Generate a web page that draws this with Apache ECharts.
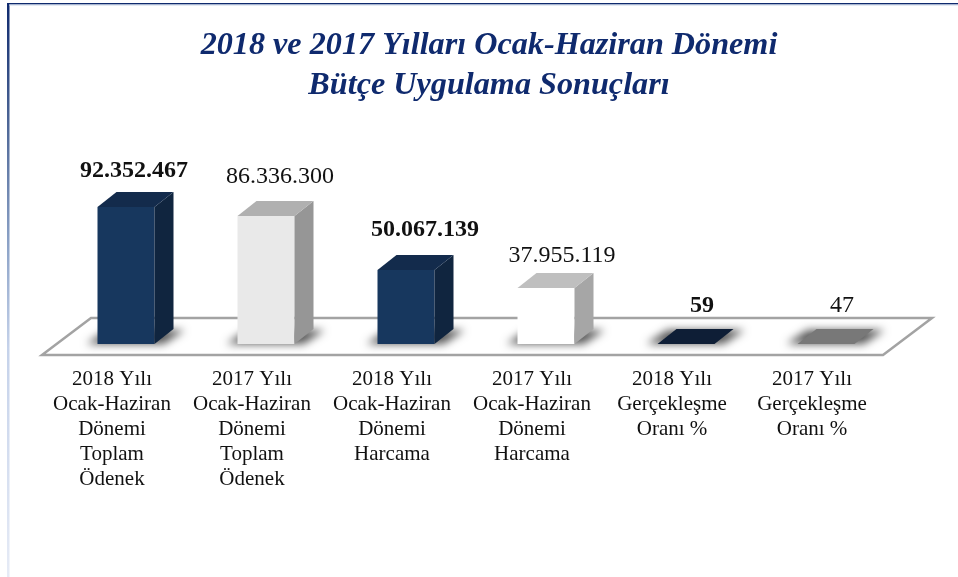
<!DOCTYPE html>
<html>
<head>
<meta charset="utf-8">
<style>
  html, body { margin: 0; padding: 0; background: #fff; }
  #chart { width: 958px; height: 577px; }
</style>
<script src="https://cdn.jsdelivr.net/npm/echarts@6/dist/echarts.min.js"></script>
</head>
<body>
<div id="chart"></div>
<script>
const titleLines = ['2018 ve 2017 Yılları Ocak-Haziran Dönemi', 'Bütçe Uygulama Sonuçları']
const categories = [
  '2018 Yılı\nOcak-Haziran\nDönemi\nToplam\nÖdenek',
  '2017 Yılı\nOcak-Haziran\nDönemi\nToplam\nÖdenek',
  '2018 Yılı\nOcak-Haziran\nDönemi\nHarcama',
  '2017 Yılı\nOcak-Haziran\nDönemi\nHarcama',
  '2018 Yılı\nGerçekleşme\nOranı %',
  '2017 Yılı\nGerçekleşme\nOranı %'
]
const values = [92352467, 86336300, 50067139, 37955119, 59, 47]

// renk: on yuz, ust, yan
const barColors = [
  ['#17375e', '#132b4c', '#10253f'],
  ['#e9e9e9', '#b0b0b0', '#969696'],
  ['#17375e', '#132b4c', '#10253f'],
  ['#ffffff', '#bfbfbf', '#a6a6a6'],
  ['#17375e', '#0e1e36', '#10253f'],
  ['#e9e9e9', '#787878', '#969696']
]
// etiketler elle yerlestirilmis gibi, cubuk basina kucuk kaydirma
const labelNudge = [[0, 3], [6, 0], [11, -1], [8, 7], [8, 1], [8, 1]]

const barW = 57
const depthX = 19
const depthY = 15
const barShift = 14
const shadowAway = 2000 // sekil ekran disinda, sadece golgesi gorunsun

const formatNum = v => String(v).replace(/\B(?=(\d{3})+(?!\d))/g, '.')

const poly = (points, fill, extra) => ({
  type: 'polygon',
  shape: { points: points },
  style: Object.assign({ fill: fill }, extra || {})
})

function renderBar (params, api) {
  const i = api.value(0)
  const v = api.value(1)
  const base = api.coord([i, 0])
  const top = api.coord([i, v])
  const x0 = base[0] + barShift - barW / 2
  const x1 = x0 + barW
  const y0 = base[1]
  const y1 = Math.round(top[1])
  const c = barColors[i]
  const children = []
  // zemindeki golge
  children.push(poly(
    [[x0 - 11, y0], [x1 + 9, y0], [x1 + depthX + 11, y0 - depthY + 1], [x0 + depthX - 9, y0 - depthY + 1]]
      .map(p => [p[0] - shadowAway, p[1]]),
    '#555',
    { shadowBlur: 9, shadowColor: 'rgba(85,85,85,1)', shadowOffsetX: shadowAway }
  ))
  if (y0 - y1 > 1) {
    children.push({
      type: 'rect',
      shape: { x: x0, y: y1, width: barW, height: y0 - y1 },
      style: { fill: c[0] }
    })
    children.push(poly([[x1, y1], [x1 + depthX, y1 - depthY], [x1 + depthX, y0 - depthY], [x1, y0]], c[2]))
  }
  children.push(poly([[x0, y1], [x1, y1], [x1 + depthX, y1 - depthY], [x0 + depthX, y1 - depthY]], c[1]))
  const n = labelNudge[i]
  children.push({
    type: 'text',
    x: x0 + barW / 2 + 8 + n[0],
    y: y1 - depthY - 24 + n[1],
    style: {
      text: formatNum(v),
      fill: '#111',
      font: (i % 2 === 0 ? 'bold ' : '') + '24px "Liberation Serif"',
      align: 'center',
      verticalAlign: 'middle'
    }
  })
  return { type: 'group', children: children }
}

// zemin: eksenin 0 cizgisine gore
function renderFloor (params, api) {
  const l = api.coord([0, 0])[0] - 70
  const r = api.coord([categories.length - 1, 0])[0] + 70
  const y = api.coord([0, 0])[1]
  return {
    type: 'polygon',
    shape: { points: [[l, y + 11], [r + 1, y + 11], [r + 50, y - 26], [l + 49, y - 26]] },
    style: { fill: '#fff', stroke: '#a3a3a3', lineWidth: 2.5 }
  }
}

const chart = echarts.init(document.getElementById('chart'), null, { renderer: 'canvas' })
chart.setOption({
  backgroundColor: '#ffffff',
  animation: false,
  title: {
    text: titleLines.join('\n'),
    left: 484,
    top: 21,
    textAlign: 'center',
    textStyle: {
      fontFamily: 'Liberation Serif',
      fontSize: 32.2,
      fontWeight: 'bold',
      fontStyle: 'italic',
      color: '#0f2a6e',
      lineHeight: 40
    }
  },
  grid: { left: 42, top: 196, width: 840, height: 148 },
  xAxis: {
    type: 'category',
    data: categories,
    axisLine: { show: false },
    axisTick: { show: false },
    axisLabel: {
      interval: 0,
      margin: 23,
      fontFamily: 'Liberation Serif',
      fontSize: 21,
      lineHeight: 25,
      color: '#111',
      verticalAlign: 'top'
    }
  },
  yAxis: { type: 'value', min: 0, max: 100000000, show: false },
  series: [
    {
      type: 'custom',
      renderItem: renderFloor,
      data: [[0, 0]],
      silent: true,
      z: 1,
      clip: false
    },
    {
      type: 'custom',
      renderItem: renderBar,
      encode: { x: 0, y: 1 },
      data: values.map((v, i) => [i, v]),
      z: 2,
      clip: false
    }
  ],
  graphic: [
    {
      type: 'rect',
      shape: { x: 7, y: 3, width: 2.5, height: 574 },
      style: {
        fill: new echarts.graphic.LinearGradient(0, 0, 0, 1, [
          { offset: 0, color: '#0f2a6e' },
          { offset: 0.2, color: '#4a6394' },
          { offset: 0.43, color: '#8fa5c9' },
          { offset: 0.6, color: '#c5d2ea' },
          { offset: 1, color: '#e6ebf6' }
        ])
      }
    },
    {
      type: 'rect',
      shape: { x: 7, y: 3, width: 951, height: 1.5 },
      style: { fill: '#0f2a6e' }
    },
    {
      type: 'rect',
      shape: { x: 9, y: 4.5, width: 949, height: 1 },
      style: { fill: '#c9d5e8' }
    }
  ]
})
</script>
</body>
</html>
